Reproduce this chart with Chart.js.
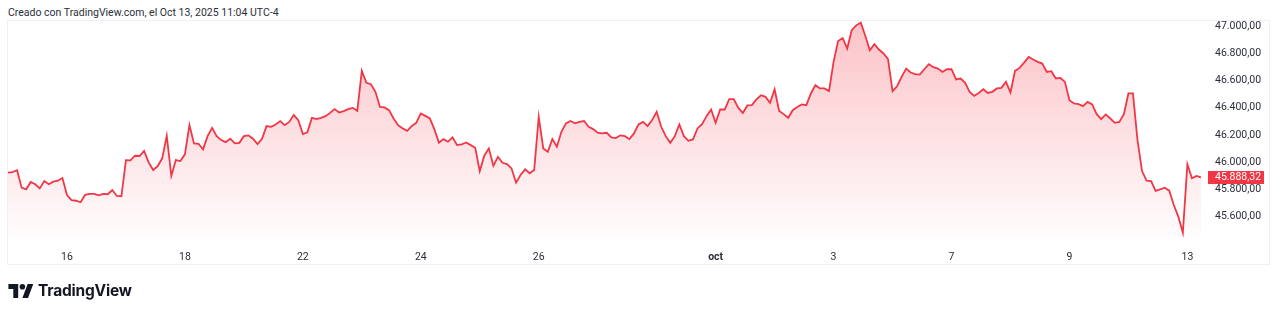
<!DOCTYPE html>
<html>
<head>
<meta charset="utf-8">
<script src="https://cdn.jsdelivr.net/npm/chart.js@4"></script>
<style>
  body { margin: 0; background: #fff; font-family: Roboto, "Noto Sans", sans-serif; }
  #wrap { position: relative; width: 1280px; height: 312px; overflow: hidden; }
  #frame { position: absolute; left: 7px; top: 20px; width: 1263px; height: 245px; box-sizing: border-box; border: 1px solid #eef0f3; }
  #hdr { position: absolute; left: 8px; top: 6px; font-size: 10.5px; color: #2a2e39; white-space: nowrap; }
  #brand { position: absolute; left: 8px; top: 281px; display: flex; align-items: center; gap: 4px; font-family: Inter, sans-serif; font-size: 15.5px; font-weight: 700; color: #131722; letter-spacing: -0.2px; }
  canvas { position: absolute; left: 0; top: 0; }
</style>
</head>
<body>
<div id="wrap">
  <div id="frame"></div>
  <div id="hdr">Creado con TradingView.com, el Oct 13, 2025 11:04 UTC-4</div>
  <canvas id="chart" width="1280" height="312"></canvas>
  <div id="brand">
    <svg width="26" height="14" viewBox="0 0 36 20"><path d="M14 20H7V7H0V0h14v20z M28 20h-8l7.5-20h8L28 20z" fill="#131722"/><circle cx="20" cy="4" r="4" fill="#131722"/></svg>
    <span>TradingView</span>
  </div>
</div>
<script>
// trading days shown on the time axis (13 half-hour bars per session)
const sessionDays = ['15', '16', '17', '18', '19', '22', '23', '24', '25', '26', '29', '30',
  'oct', '2', '3', '6', '7', '8', '9', '10', '13'];
const slots = ['09:30', '10:00', '10:30', '11:00', '11:30', '12:00', '12:30',
  '13:00', '13:30', '14:00', '14:30', '15:00', '15:30'];
const shownDays = ['16', '18', '22', '24', '26', 'oct', '3', '7', '9', '13'];
const yTicks = [45600, 45800, 46000, 46200, 46400, 46600, 46800, 47000];

// 30 min closes, Sep 15 - Oct 13
const closes = [
  45923, 45928, 45941, 45813, 45801, 45855, 45838, 45808, 45862, 45838, 45857, 45864, 45884,
  45759, 45722, 45717, 45706, 45761, 45767, 45767, 45757, 45767, 45765, 45796, 45752, 45750,
  46016, 46014, 46048, 46046, 46084, 45999, 45943, 45972, 46029, 46195, 45899, 46016, 46009,
  46058, 46273, 46139, 46136, 46095, 46192, 46253, 46192, 46163, 46148, 46173, 46139, 46143,
  46192, 46198, 46173, 46134, 46173, 46266, 46261, 46278, 46303, 46273, 46297, 46347, 46310,
  46207, 46220, 46327, 46317, 46327, 46339, 46363, 46391, 46366, 46376, 46391, 46400, 46378,
  46672, 46584, 46574, 46518, 46407, 46403, 46383, 46322, 46273, 46249, 46231, 46266, 46290,
  46359, 46341, 46322, 46242, 46143, 46170, 46151, 46183, 46126, 46131, 46146, 46126, 46106,
  45935, 46048, 46102, 45974, 46040, 45996, 45987, 45955, 45850, 45906, 45948, 45919, 45943,
  46334, 46102, 46077, 46170, 46114, 46224, 46286, 46303, 46286, 46297, 46303, 46261, 46244,
  46218, 46212, 46217, 46183, 46178, 46198, 46192, 46170, 46212, 46278, 46297, 46266, 46310,
  46371, 46261, 46192, 46143, 46192, 46278, 46192, 46158, 46168, 46249, 46280, 46339, 46388,
  46290, 46388, 46388, 46464, 46464, 46400, 46363, 46418, 46420, 46462, 46493, 46481, 46437,
  46537, 46378, 46354, 46327, 46383, 46407, 46425, 46420, 46506, 46567, 46543, 46543, 46523,
  46738, 46892, 46914, 46836, 46971, 47007, 47027, 46929, 46824, 46868, 46829, 46800, 46758,
  46523, 46559, 46628, 46689, 46660, 46648, 46645, 46684, 46721, 46699, 46689, 46664, 46684,
  46684, 46609, 46616, 46584, 46518, 46488, 46510, 46537, 46510, 46518, 46543, 46547, 46591,
  46513, 46672, 46694, 46733, 46775, 46756, 46738, 46726, 46664, 46670, 46616, 46620, 46591,
  46457, 46432, 46427, 46413, 46444, 46425, 46354, 46317, 46352, 46322, 46290, 46297, 46354,
  46506, 46506, 46163, 45935, 45864, 45862, 45789, 45801, 45813, 45791, 45686, 45600, 45482,
  45985, 45882, 45899, 45888.32
];

const RED = '#f23645';
const FONT = 'Roboto, "Noto Sans", sans-serif';

const fmt = v => {
  const [i, d] = v.toFixed(2).split('.');
  return i.replace(/\B(?=(\d{3})+(?!\d))/g, '.') + ',' + d;
};

const labels = closes.map((_, i) => sessionDays[Math.floor(i / 13)] + ' ' + slots[i % 13]);

const lastPrice = {
  id: 'lastPrice',
  afterDraw(chart) {
    const { ctx, chartArea, scales } = chart;
    const v = closes[closes.length - 1];
    const y = scales.y.getPixelForValue(v);
    ctx.save();
    ctx.fillStyle = RED;
    ctx.fillRect(chartArea.right + 7, Math.round(y) - 6, 56, 13);
    ctx.fillStyle = '#fff';
    ctx.font = '10.5px ' + FONT;
    ctx.textBaseline = 'middle';
    ctx.fillText(fmt(v), chartArea.right + 14, Math.round(y) + 0.5);
    ctx.restore();
  }
};

new Chart(document.getElementById('chart'), {
  type: 'line',
  data: {
    labels: labels,
    datasets: [{
      data: closes,
      borderColor: RED,
      borderWidth: 1.8,
      pointRadius: 0,
      tension: 0,
      fill: 'start',
      backgroundColor: ctx => {
        const area = ctx.chart.chartArea;
        if (!area) return 'rgba(242,54,69,0.2)';
        const g = ctx.chart.ctx.createLinearGradient(0, area.top, 0, area.bottom);
        g.addColorStop(0, 'rgba(242,54,69,0.30)');
        g.addColorStop(1, 'rgba(242,54,69,0.01)');
        return g;
      }
    }]
  },
  options: {
    responsive: false,
    animation: false,
    layout: { padding: { left: 8, top: 20, right: 0, bottom: 47 } },
    plugins: { legend: { display: false }, tooltip: { enabled: false } },
    scales: {
      x: {
        // invisible tick marks push the labels down without widening the side padding
        grid: { color: 'transparent', drawOnChartArea: false, drawTicks: true, tickLength: 13 },
        border: { display: false },
        afterFit: s => { s.height = 27; },
        ticks: {
          autoSkip: false,
          maxRotation: 0,
          padding: 0,
          color: '#2a2e39',
          font: c => ({ size: 10.5, family: FONT,
            weight: (c.tick && c.tick.label === 'oct') ? '700' : '400' }),
          callback: (v, i) => {
            const d = sessionDays[Math.floor(i / 13)];
            return (i % 13 === 0 && shownDays.includes(d)) ? d : '';
          }
        }
      },
      y: {
        position: 'right',
        min: 45443,
        max: 47044,
        grid: { display: false, drawTicks: false },
        border: { display: false },
        afterFit: s => { s.width = 79; },
        afterBuildTicks: s => { s.ticks = yTicks.map(v => ({ value: v })); },
        ticks: {
          padding: 14,
          color: '#2a2e39',
          font: { size: 10.5, family: FONT },
          callback: v => fmt(v)
        }
      }
    }
  },
  plugins: [lastPrice]
});
</script>
</body>
</html>
